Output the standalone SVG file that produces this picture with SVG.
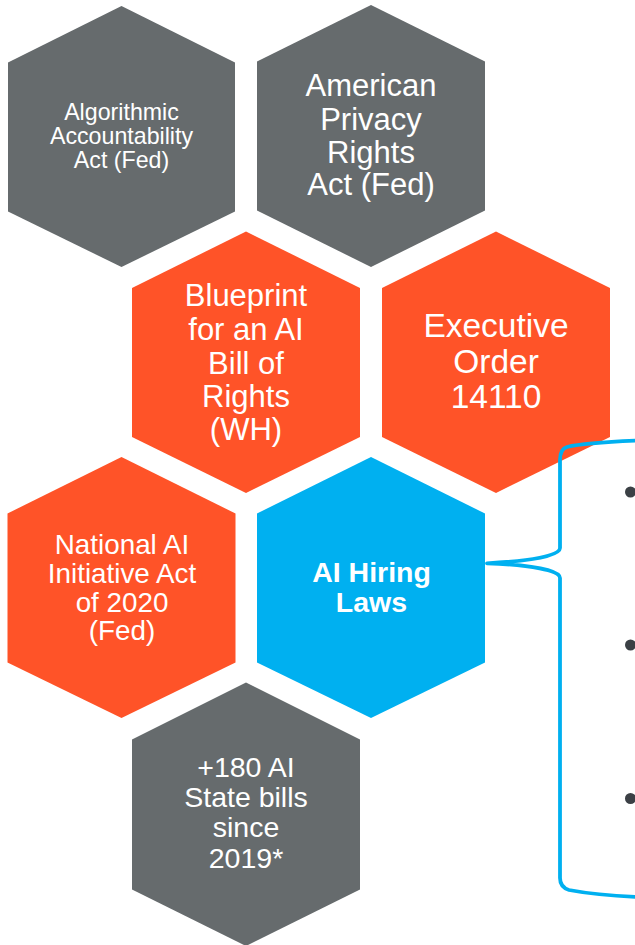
<svg xmlns="http://www.w3.org/2000/svg" width="635" height="945" viewBox="0 0 635 945">
<style>
.gray{fill:#666B6D}
.orange{fill:#FF5328}
.blue{fill:#00B0F0}
text{font-family:"Liberation Sans",Arial,sans-serif;fill:#FFFFFF;text-anchor:middle}
.b{font-weight:bold}
.brace{fill:none;stroke:#00B0F0;stroke-width:3.8;stroke-linecap:round;stroke-linejoin:round}
.dot{fill:#3B4045}
</style>
<rect width="635" height="945" fill="#FFFFFF"/>
<g id="node-algorithmic">
<polygon class="gray" points="121.5,6 235,62.5 235,211.5 121.5,267 8,211.5 8,62.5"/>
<text font-size="23.2"><tspan x="121.5" y="120">Algorithmic</tspan><tspan x="121.5" y="144">Accountability</tspan><tspan x="121.5" y="168">Act (Fed)</tspan></text>
</g>
<g id="node-american">
<polygon class="gray" points="371,5 485,61.5 485,210.5 371,267 257,210.5 257,61.5"/>
<text font-size="31"><tspan x="371" y="96">American</tspan><tspan x="371" y="130">Privacy</tspan><tspan x="371" y="163">Rights</tspan><tspan x="371" y="195">Act (Fed)</tspan></text>
</g>
<g id="node-blueprint">
<polygon class="orange" points="246,231.5 360,288 360,437 246,493 132,437 132,288"/>
<text font-size="31"><tspan x="246" y="306">Blueprint</tspan><tspan x="246" y="340">for an AI</tspan><tspan x="246" y="374">Bill of</tspan><tspan x="246" y="407">Rights</tspan><tspan x="246" y="440">(WH)</tspan></text>
</g>
<g id="node-executive">
<polygon class="orange" points="496,231.5 610,288 610,437 496,493 382,437 382,288"/>
<text font-size="33.5"><tspan x="496" y="337">Executive</tspan><tspan x="496" y="373">Order</tspan><tspan x="496" y="408">14110</tspan></text>
</g>
<g id="node-national">
<polygon class="orange" points="121.5,457 235.5,513.5 235.5,662.5 121.5,718 7.5,662.5 7.5,513.5"/>
<text font-size="27.8"><tspan x="122" y="554">National AI</tspan><tspan x="122" y="583">Initiative Act</tspan><tspan x="122" y="612">of 2020</tspan><tspan x="122" y="640">(Fed)</tspan></text>
</g>
<g id="node-hiring">
<polygon class="blue" points="371,457 485,513.5 485,662.5 371,718 257,662.5 257,513.5"/>
<text class="b" font-size="28.5"><tspan x="371.5" y="582">AI Hiring</tspan><tspan x="371.5" y="612">Laws</tspan></text>
</g>
<g id="node-state">
<polygon class="gray" points="246,682.5 360,739.5 360,889.5 246,946 132,889.5 132,739.5"/>
<text font-size="28.5"><tspan x="246" y="777">+180 AI</tspan><tspan x="246" y="807">State bills</tspan><tspan x="246" y="837">since</tspan><tspan x="246" y="868">2019*</tspan></text>
</g>
<g id="connectors">
<path class="brace" d="M 640 440.5 C 605 442, 580 444, 567 447 Q 560 449 560 460 L 560 548 C 560 556, 530 561, 487 563.3 C 530 565, 560 570, 560 578 L 560 878 Q 560 887 569 890 C 590 894, 610 896, 640 897"/>
</g>
<g id="bullets">
<circle class="dot" cx="630.5" cy="492" r="5.5"/>
<circle class="dot" cx="630.5" cy="645" r="5.5"/>
<circle class="dot" cx="630.5" cy="798.5" r="5.5"/>
</g>
</svg>
